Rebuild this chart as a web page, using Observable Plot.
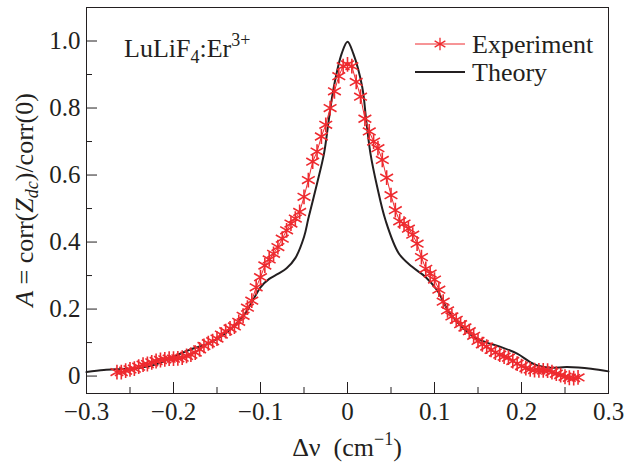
<!DOCTYPE html>
<html>
<head>
<meta charset="utf-8">
<script src="https://cdn.jsdelivr.net/npm/d3@7"></script>
<script src="https://cdn.jsdelivr.net/npm/@observablehq/plot@0.6"></script>
<style>
  html, body { margin: 0; padding: 0; background: #fff; }
  #chart svg { display: block; }
  #chart svg, #chart svg text { font-family: "Liberation Serif", "Times New Roman", serif !important; }
</style>
</head>
<body>
<div id="chart"></div>
<script>
// ---- data ----
const xTicks = [-0.3, -0.2, -0.1, 0, 0.1, 0.2, 0.3];
const xTickLabels = ["\u22120.3", "\u22120.2", "\u22120.1", "0", "0.1", "0.2", "0.3"];
const xMinorTicks = [-0.25, -0.15, -0.05, 0.05, 0.15, 0.25];
const yTicks = [0, 0.2, 0.4, 0.6, 0.8, 1.0];
const yTickLabels = ["0", "0.2", "0.4", "0.6", "0.8", "1.0"];
const yMinorTicks = [0.1, 0.3, 0.5, 0.7, 0.9];

const theoryNu = [-0.30, -0.28, -0.26, -0.24, -0.22, -0.20, -0.18, -0.16, -0.14, -0.12, -0.11, -0.10, -0.09, -0.08, -0.07, -0.06, -0.05, -0.045, -0.035, -0.027, -0.0215, -0.0157, -0.0066, 0, 0.0066, 0.0169, 0.0215, 0.0264, 0.0341, 0.0437, 0.059, 0.0743, 0.0897, 0.103, 0.118, 0.145, 0.16, 0.176, 0.195, 0.215, 0.233, 0.2525, 0.28, 0.30];
const theoryA = [0.012, 0.018, 0.021, 0.024, 0.035, 0.058, 0.080, 0.097, 0.128, 0.178, 0.220, 0.265, 0.290, 0.305, 0.322, 0.352, 0.415, 0.470, 0.575, 0.664, 0.764, 0.863, 0.963, 0.998, 0.963, 0.863, 0.764, 0.664, 0.565, 0.465, 0.366, 0.326, 0.296, 0.256, 0.186, 0.117, 0.100, 0.087, 0.067, 0.035, 0.025, 0.027, 0.022, 0.014];

const expNu = [-0.265, -0.260, -0.255, -0.250, -0.245, -0.240, -0.235, -0.230, -0.225, -0.220, -0.215, -0.210, -0.205, -0.200, -0.195, -0.190, -0.185, -0.180, -0.175, -0.170, -0.165, -0.160, -0.155, -0.150, -0.145, -0.140, -0.135, -0.130, -0.125, -0.120, -0.115, -0.110, -0.105, -0.100, -0.095, -0.090, -0.085, -0.080, -0.075, -0.070, -0.065, -0.060, -0.055, -0.050, -0.045, -0.040, -0.035, -0.030, -0.025, -0.020, -0.015, -0.010, -0.005, 0.000, 0.005, 0.010, 0.015, 0.020, 0.025, 0.030, 0.035, 0.040, 0.045, 0.050, 0.055, 0.060, 0.065, 0.070, 0.075, 0.080, 0.085, 0.090, 0.095, 0.100, 0.105, 0.110, 0.115, 0.120, 0.125, 0.130, 0.135, 0.140, 0.145, 0.150, 0.155, 0.160, 0.165, 0.170, 0.175, 0.180, 0.185, 0.190, 0.195, 0.200, 0.205, 0.210, 0.215, 0.220, 0.225, 0.230, 0.235, 0.240, 0.245, 0.250, 0.255, 0.260, 0.265];
const expA = [0.012, 0.012, 0.016, 0.020, 0.022, 0.028, 0.034, 0.036, 0.041, 0.045, 0.048, 0.050, 0.052, 0.052, 0.053, 0.055, 0.060, 0.064, 0.070, 0.080, 0.090, 0.098, 0.104, 0.112, 0.124, 0.134, 0.142, 0.148, 0.162, 0.180, 0.204, 0.225, 0.265, 0.295, 0.330, 0.348, 0.365, 0.385, 0.410, 0.435, 0.455, 0.470, 0.490, 0.535, 0.585, 0.640, 0.670, 0.715, 0.750, 0.800, 0.850, 0.895, 0.925, 0.930, 0.925, 0.878, 0.834, 0.768, 0.730, 0.700, 0.680, 0.645, 0.592, 0.540, 0.495, 0.462, 0.455, 0.440, 0.422, 0.395, 0.355, 0.320, 0.306, 0.288, 0.258, 0.222, 0.196, 0.178, 0.168, 0.155, 0.145, 0.134, 0.120, 0.105, 0.095, 0.088, 0.078, 0.070, 0.064, 0.058, 0.055, 0.045, 0.037, 0.030, 0.024, 0.020, 0.018, 0.017, 0.017, 0.016, 0.012, 0.007, 0.003, -0.002, -0.005, -0.006, -0.004];

const seriesNames = ["Experiment", "Theory"];

const theory = theoryNu.map((v, i) => ({v, A: theoryA[i]}));
const experiment = expNu.map((v, i) => ({v, A: expA[i]}));

const RED = "#ee2a2f";
const INK = "#231f20";
const FONT = "Liberation Serif";
const W = 624, H = 465, ML = 86, MR = 16, MT = 7, MB = 72;
const PW = W - ML - MR, PH = H - MT - MB;
const R = 7;

const chart = Plot.plot({
  width: W,
  height: H,
  marginLeft: ML,
  marginRight: MR,
  marginTop: MT,
  marginBottom: MB,
  style: {fontFamily: FONT, fontSize: "25px", background: "#fff", color: INK},
  x: {domain: [-0.3, 0.3]},
  y: {domain: [-0.052, 1.10]},
  marks: [
    Plot.line(theory, {x: "v", y: "A", stroke: INK, strokeWidth: 2, curve: "catmull-rom"}),
    Plot.line(experiment, {x: "v", y: "A", stroke: RED, strokeWidth: 1}),
    Plot.dot(experiment, {x: "v", y: "A", symbol: "asterisk", r: R, stroke: RED, strokeWidth: 1.6}),
    // inward ticks
    Plot.tickX(xTicks, {x: d => d, stroke: INK, insetTop: PH - 11}),
    Plot.tickX(xMinorTicks, {x: d => d, stroke: INK, insetTop: PH - 6}),
    Plot.tickY(yTicks, {y: d => d, stroke: INK, insetRight: PW - 11}),
    Plot.tickY(yMinorTicks, {y: d => d, stroke: INK, insetRight: PW - 6}),
    // tick labels
    Plot.axisX({ticks: xTicks, tickSize: 0, tickPadding: 9, fontSize: 25, fontFamily: FONT, fill: INK,
      tickFormat: d => xTickLabels[xTicks.indexOf(d)], label: null}),
    Plot.axisY({ticks: yTicks, tickSize: 0, tickPadding: 6, fontSize: 25, fontFamily: FONT, fill: INK,
      tickFormat: d => yTickLabels[yTicks.indexOf(d)], label: null}),
    Plot.frame({stroke: INK, strokeWidth: 1})
  ]
});

document.getElementById("chart").appendChild(chart);

// ---- text with sub/superscripts and legend ----
const svg = d3.select(chart);
const g = svg.append("g").attr("font-family", FONT).attr("fill", INK).attr("text-anchor", "start");

// y-axis label
const yl = g.append("text")
  .attr("transform", "translate(33,200) rotate(-90)")
  .attr("text-anchor", "middle")
  .attr("font-size", 26);
yl.append("tspan").attr("font-style", "italic").text("A");
yl.append("tspan").text(" = corr(");
yl.append("tspan").attr("font-style", "italic").text("Z");
yl.append("tspan").attr("font-style", "italic").attr("font-size", 18).attr("dy", 5).text("dc");
yl.append("tspan").attr("dy", -5).text(")/corr(0)");

// x-axis label
const xl = g.append("text")
  .attr("x", 347).attr("y", 456)
  .attr("text-anchor", "middle")
  .attr("font-size", 26);
xl.append("tspan").text("\u0394\u03bd  (cm");
xl.append("tspan").attr("font-size", 18).attr("dy", -11).text("\u22121");
xl.append("tspan").attr("dy", 11).text(")");

// annotation
const an = g.append("text").attr("x", 124).attr("y", 57).attr("font-size", 26);
an.append("tspan").text("LuLiF");
an.append("tspan").attr("font-size", 18).attr("dy", 6).text("4");
an.append("tspan").attr("dy", -6).text(":Er");
an.append("tspan").attr("font-size", 18).attr("dy", -11).text("3+");

// legend
const lg = g.append("g");
const legendY = [44, 72];
seriesNames.forEach((name, i) => {
  const y = legendY[i];
  const color = i === 0 ? RED : INK;
  lg.append("line").attr("x1", 415).attr("x2", 465).attr("y1", y).attr("y2", y)
    .attr("stroke", color).attr("stroke-width", i === 0 ? 1 : 2);
  lg.append("text").attr("x", 472).attr("y", y + 9).attr("font-size", 26).text(name);
});
lg.append("path")
  .attr("transform", `translate(440,${legendY[0]})`)
  .attr("d", d3.symbol(d3.symbolAsterisk, Math.PI * R * R * 0.7)())
  .attr("fill", "none").attr("stroke", RED).attr("stroke-width", 1.3);
</script>
</body>
</html>
